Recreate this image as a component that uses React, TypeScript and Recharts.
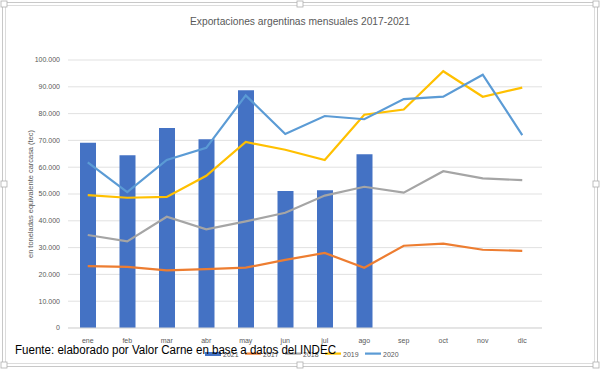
import { ComposedChart, Bar, Line, XAxis, YAxis, CartesianGrid } from 'recharts';

const months = ['ene', 'feb', 'mar', 'abr', 'may', 'jun', 'jul', 'ago', 'sep', 'oct', 'nov', 'dic'];
const y2021 = [69100, 64500, 74600, 70400, 88700, 51100, 51400, 64800, null, null, null, null];
const y2017 = [23100, 22800, 21500, 22000, 22500, 25400, 28000, 22500, 30700, 31500, 29200, 28800];
const y2018 = [34700, 32300, 41500, 36800, 39800, 43000, 49400, 52700, 50500, 58500, 55800, 55200];
const y2019 = [49600, 48600, 48900, 56800, 69400, 66500, 62700, 79600, 81500, 95800, 86300, 89700];
const y2020 = [61800, 50700, 62700, 67200, 86800, 72400, 79100, 77900, 85400, 86300, 94500, 72000];
const yTicks = [0, 10000, 20000, 30000, 40000, 50000, 60000, 70000, 80000, 90000, 100000];

const series = [
  { key: 'y2021', name: '2021', color: '#4472C4', kind: 'bar' },
  { key: 'y2017', name: '2017', color: '#ED7D31', kind: 'line' },
  { key: 'y2018', name: '2018', color: '#A5A5A5', kind: 'line' },
  { key: 'y2019', name: '2019', color: '#FFC000', kind: 'line' },
  { key: 'y2020', name: '2020', color: '#5B9BD5', kind: 'line' },
];

const data = months.map((m, i) => ({
  month: m,
  y2021: y2021[i],
  y2017: y2017[i],
  y2018: y2018[i],
  y2019: y2019[i],
  y2020: y2020[i],
}));

const fmt = (v: number) => v.toLocaleString('de-DE');
const axisFont = 'Liberation Sans, Arial, sans-serif';

function Handle({ x, y }: { x: number; y: number }) {
  return <rect x={x - 3} y={y - 3} width={6} height={6} fill="#fff" stroke="#b0b0b0" strokeWidth={0.8} />;
}

export default function App() {
  return (
    <div style={{ position: 'absolute', left: 0, top: 0, width: 600, height: 369, background: '#fff' }}>
      <ComposedChart width={600} height={369} data={data} margin={{ top: 60, right: 58, bottom: 21, left: 28 }}>
        <CartesianGrid vertical={false} stroke="#D9D9D9" strokeWidth={0.8} />
        <XAxis
          dataKey="month"
          height={20}
          tickLine={false}
          axisLine={{ stroke: '#D9D9D9' }}
          tick={{ fontSize: 7, fill: '#595959', fontFamily: axisFont }}
          tickMargin={4}
        />
        <YAxis
          width={40}
          domain={[0, 100000]}
          ticks={yTicks}
          tickFormatter={fmt}
          tickLine={false}
          axisLine={false}
          tick={{ fontSize: 7, fill: '#595959', fontFamily: axisFont }}
        />
        {series.map((s) =>
          s.kind === 'bar' ? (
            <Bar key={s.key} dataKey={s.key} name={s.name} fill={s.color} barSize={16} isAnimationActive={false} />
          ) : (
            <Line
              key={s.key}
              dataKey={s.key}
              name={s.name}
              stroke={s.color}
              strokeWidth={2.2}
              dot={false}
              type="linear"
              isAnimationActive={false}
            />
          )
        )}
      </ComposedChart>
      <svg
        width={600}
        height={369}
        style={{ position: 'absolute', left: 0, top: 0, pointerEvents: 'none' }}
      >
        {/* selection frame */}
        <rect x={2.5} y={2.5} width={595} height={364} fill="none" stroke="#c8c8c8" />
        <rect x={5.5} y={5.5} width={589} height={358} fill="none" stroke="#dcdcdc" />
        <Handle x={4} y={4} />
        <Handle x={300} y={4} />
        <Handle x={596} y={4} />
        <Handle x={4} y={184} />
        <Handle x={596} y={184} />
        <Handle x={4} y={365} />
        <Handle x={300} y={365} />
        <Handle x={596} y={365} />

        <text
          x={300}
          y={25}
          textAnchor="middle"
          fontSize={11.5}
          fill="#595959"
          fontFamily={axisFont}
          textLength={220}
          lengthAdjust="spacingAndGlyphs"
        >
          Exportaciones argentinas mensuales 2017-2021
        </text>
        <text
          transform="translate(33,194) rotate(-90)"
          textAnchor="middle"
          fontSize={7}
          fill="#595959"
          fontFamily={axisFont}
          textLength={128}
          lengthAdjust="spacingAndGlyphs"
        >
          en toneladas equivalente carcasa (tec)
        </text>

        {/* legend */}
        {series.map((s, i) => {
          const x0 = 205 + i * 40;
          return (
            <g key={s.key}>
              <rect x={x0} y={s.kind === 'bar' ? 352 : 352.5} width={16} height={s.kind === 'bar' ? 4 : 2.2} fill={s.color} />
              <text x={x0 + 18} y={356.5} fontSize={7} fill="#595959" fontFamily={axisFont}>
                {s.name}
              </text>
            </g>
          );
        })}

        <text
          x={15}
          y={354}
          fontSize={12.5}
          fill="#000"
          fontFamily={axisFont}
          textLength={321}
          lengthAdjust="spacingAndGlyphs"
        >
          Fuente: elaborado por  Valor Carne en base a datos del INDEC
        </text>
      </svg>
    </div>
  );
}
